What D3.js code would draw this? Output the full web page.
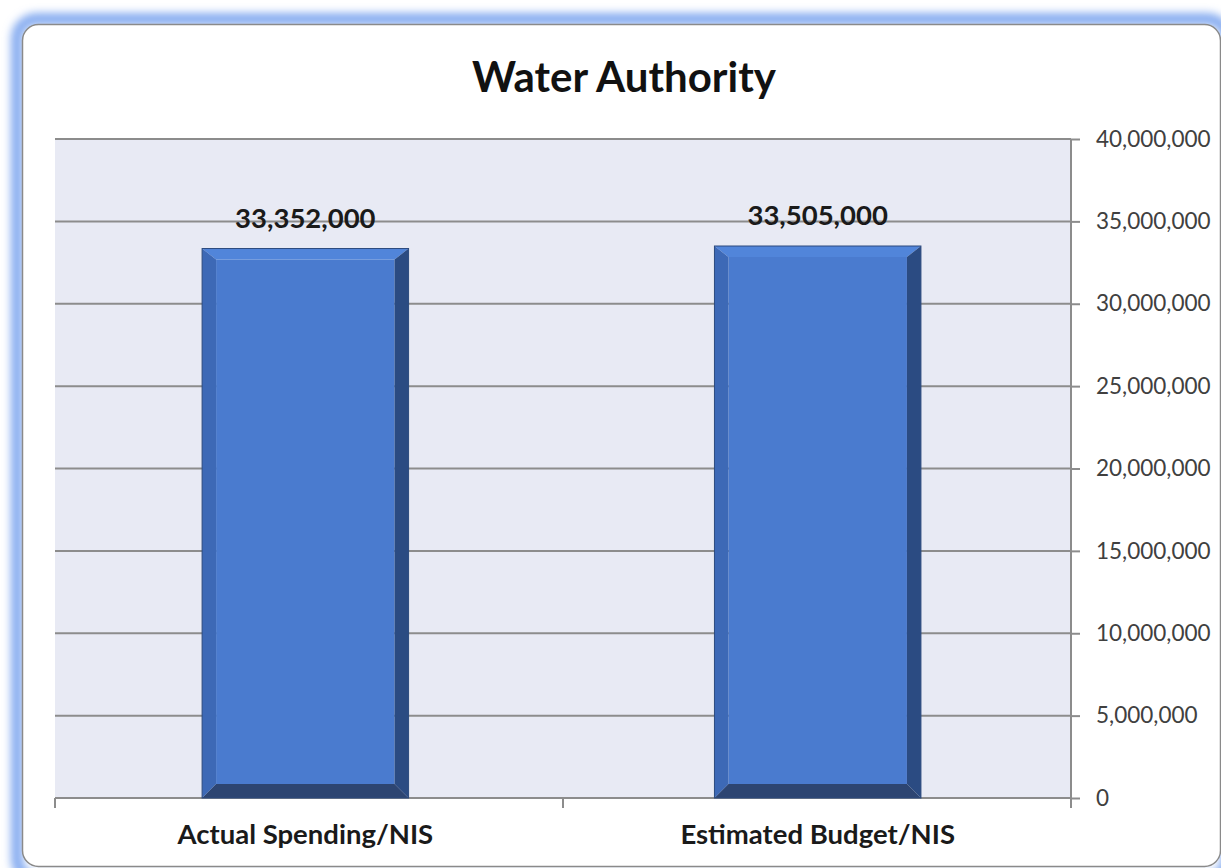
<!DOCTYPE html>
<html>
<head>
<meta charset="utf-8">
<script src="https://cdn.jsdelivr.net/npm/d3@7"></script>
<style>
  html, body { margin: 0; padding: 0; background: #ffffff; }
  svg { display: block; }
</style>
</head>
<body>
<svg id="chart" width="1221" height="868"></svg>
<script>
// Chart data
const title = "Water Authority";
const categories = ["Actual Spending/NIS", "Estimated Budget/NIS"];
const values = [33352000, 33505000];
const valueLabels = ["33,352,000", "33,505,000"];
const yTicks = [0, 5000000, 10000000, 15000000, 20000000, 25000000, 30000000, 35000000, 40000000];

const plot = { left: 55, right: 1071, top: 139, bottom: 798 };
const font = "Lato, 'Open Sans', sans-serif";

const svg = d3.select("#chart");
const defs = svg.append("defs");

// soft blue glow around the card
const glow = defs.append("filter").attr("id", "glow")
  .attr("x", "-5%").attr("y", "-5%").attr("width", "110%").attr("height", "110%");
glow.append("feGaussianBlur").attr("stdDeviation", 4);

svg.append("rect")
  .attr("x", 17).attr("y", 19).attr("width", 1210).attr("height", 860)
  .attr("rx", 20)
  .attr("fill", "none").attr("stroke", "#86acf0").attr("stroke-width", 12)
  .attr("filter", "url(#glow)");

// card
svg.append("rect")
  .attr("x", 22.5).attr("y", 24.5).attr("width", 1198).attr("height", 842)
  .attr("rx", 16)
  .attr("fill", "#ffffff").attr("stroke", "#8a8a8a").attr("stroke-width", 1.5);

// scales
const x = d3.scaleBand()
  .domain(categories)
  .range([plot.left, plot.right])
  .paddingInner(0.597)
  .paddingOuter(0.29)
  .align(0.495);

const y = d3.scaleLinear()
  .domain([0, 40000000])
  .range([plot.bottom, plot.top]);

// plot background
svg.append("rect")
  .attr("x", plot.left).attr("y", plot.top)
  .attr("width", plot.right - plot.left).attr("height", plot.bottom - plot.top)
  .attr("fill", "#e8eaf4");

// gridlines
svg.append("g")
  .selectAll("line")
  .data(yTicks.filter(d => d > 0))
  .join("line")
  .attr("x1", plot.left).attr("x2", plot.right)
  .attr("y1", d => y(d)).attr("y2", d => y(d))
  .attr("stroke", "#8c8c8c").attr("stroke-width", 2);

// right value axis
const yAxis = d3.axisRight(y)
  .tickValues(yTicks)
  .tickSize(9)
  .tickPadding(16)
  .tickFormat(d3.format(","));

const gy = svg.append("g")
  .attr("transform", `translate(${plot.right},0)`)
  .call(yAxis);
gy.select(".domain").attr("stroke", "#8c8c8c").attr("stroke-width", 2)
  .attr("d", `M0,${plot.top}V${plot.bottom}`);
gy.selectAll(".tick line").attr("stroke", "#8c8c8c").attr("stroke-width", 2);
gy.selectAll(".tick text")
  .attr("fill", "#404040")
  .style("font-family", font)
  .style("font-size", "22.5px");

// bottom category axis: ticks sit on the band boundaries
const gx = svg.append("g");
const boundaries = [plot.left, (plot.left + plot.right) / 2, plot.right];
gx.append("line")
  .attr("x1", plot.left).attr("x2", plot.right)
  .attr("y1", plot.bottom).attr("y2", plot.bottom)
  .attr("stroke", "#8c8c8c").attr("stroke-width", 2);
gx.selectAll("line.tick")
  .data(boundaries)
  .join("line").attr("class", "tick")
  .attr("x1", d => d).attr("x2", d => d)
  .attr("y1", plot.bottom).attr("y2", plot.bottom + 10)
  .attr("stroke", "#8c8c8c").attr("stroke-width", 2);
gx.selectAll("text")
  .data(categories)
  .join("text")
  .attr("x", d => x(d) + x.bandwidth() / 2)
  .attr("y", 844)
  .attr("text-anchor", "middle")
  .attr("fill", "#1a1a1a")
  .style("font-family", font)
  .style("font-weight", "bold")
  .style("font-size", "27.5px")
  .text(d => d);

// bevelled bars
const bev = 14;
const topBev = 11;
const bars = svg.append("g");
categories.forEach((c, i) => {
  const x0 = x(c), x1 = x(c) + x.bandwidth();
  const y0 = y(values[i]), y1 = y(0);
  const g = bars.append("g");
  const poly = pts => pts.map(p => p.join(",")).join(" ");
  // face
  g.append("rect")
    .attr("x", x0 + bev).attr("y", y0 + topBev)
    .attr("width", x1 - x0 - 2 * bev).attr("height", y1 - y0 - topBev - bev)
    .attr("fill", "#4a7bcf");
  // top bevel
  g.append("polygon")
    .attr("points", poly([[x0, y0], [x1, y0], [x1 - bev, y0 + topBev], [x0 + bev, y0 + topBev]]))
    .attr("fill", "#5185da");
  // left bevel
  g.append("polygon")
    .attr("points", poly([[x0, y0], [x0 + bev, y0 + topBev], [x0 + bev, y1 - bev], [x0, y1]]))
    .attr("fill", "#3d69b6");
  // right bevel
  g.append("polygon")
    .attr("points", poly([[x1, y0], [x1, y1], [x1 - bev, y1 - bev], [x1 - bev, y0 + topBev]]))
    .attr("fill", "#2b4b82");
  // bottom bevel
  g.append("polygon")
    .attr("points", poly([[x0, y1], [x0 + bev, y1 - bev], [x1 - bev, y1 - bev], [x1, y1]]))
    .attr("fill", "#2d4572");
  // outline
  g.append("rect")
    .attr("x", x0).attr("y", y0)
    .attr("width", x1 - x0).attr("height", y1 - y0)
    .attr("fill", "none").attr("stroke", "#2c4a7e").attr("stroke-width", 1);
});

// value labels
svg.append("g")
  .selectAll("text")
  .data(categories)
  .join("text")
  .attr("x", d => x(d) + x.bandwidth() / 2)
  .attr("y", (d, i) => y(values[i]) - 21)
  .attr("text-anchor", "middle")
  .attr("fill", "#1a1a1a")
  .style("font-family", font)
  .style("font-weight", "bold")
  .style("font-size", "27.5px")
  .text((d, i) => valueLabels[i]);

// title
svg.append("text")
  .attr("x", 624).attr("y", 92)
  .attr("text-anchor", "middle")
  .attr("fill", "#111")
  .style("font-family", font)
  .style("font-weight", "bold")
  .style("font-size", "42px")
  .text(title);
</script>
</body>
</html>
